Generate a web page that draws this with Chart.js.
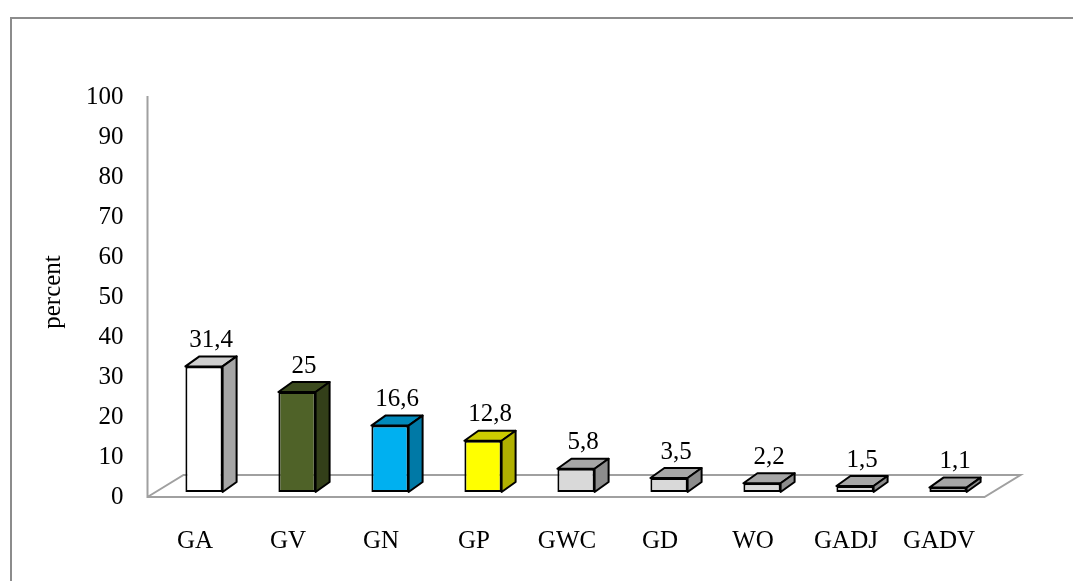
<!DOCTYPE html>
<html>
<head>
<meta charset="utf-8">
<script src="https://cdn.jsdelivr.net/npm/chart.js@4.4.1/dist/chart.umd.min.js"></script>
<style>
  html, body { margin: 0; padding: 0; background: #fff; }
  #wrap { width: 1073px; height: 581px; position: relative; }
</style>
</head>
<body>
<div id="wrap"><canvas id="chart" width="1073" height="581"></canvas></div>
<script>
const categories = ["GA", "GV", "GN", "GP", "GWC", "GD", "WO", "GADJ", "GADV"];
const percentValues = [31.4, 25, 16.6, 12.8, 5.8, 3.5, 2.2, 1.5, 1.1];
const yTicks = [0, 10, 20, 30, 40, 50, 60, 70, 80, 90, 100];

// face colours (front / top / side)
const frontColors = ["#ffffff", "#4f6228", "#00b0f0", "#ffff00", "#d9d9d9", "#d9d9d9", "#d9d9d9", "#d9d9d9", "#d9d9d9"];
const topColors = ["#cfcfcf", "#3c4b1e", "#0089bb", "#cccc00", "#a6a6a6", "#a6a6a6", "#a6a6a6", "#a6a6a6", "#a6a6a6"];
const sideColors = ["#a6a6a6", "#333f19", "#0079a6", "#b0b000", "#8c8c8c", "#8c8c8c", "#8c8c8c", "#8c8c8c", "#8c8c8c"];

const FONT = "'Liberation Serif', 'Times New Roman', serif";
const FS = 25;
const DX = 14, DY = 10;

const frame = {
  id: "frame",
  beforeDraw(chart) {
    const ctx = chart.ctx;
    ctx.save();
    ctx.fillStyle = "#fff";
    ctx.fillRect(0, 0, chart.width, chart.height);
    ctx.strokeStyle = "#8c8c8c";
    ctx.lineWidth = 2;
    ctx.beginPath();
    ctx.moveTo(11, chart.height + 5);
    ctx.lineTo(11, 18);
    ctx.lineTo(chart.width + 5, 18);
    ctx.stroke();
    ctx.restore();
  },
  beforeDatasetsDraw(chart) {
    // floor and vertical axis of the 3d plot
    const ctx = chart.ctx;
    const x = chart.scales.x, y = chart.scales.y;
    const yFront = y.getPixelForValue(0) + 5;
    const xl = x.left - 10, xr = x.right - 10;
    ctx.save();
    ctx.strokeStyle = "#a0a0a0";
    ctx.lineWidth = 2;
    ctx.beginPath();
    ctx.moveTo(xl, y.getPixelForValue(100) + 4);
    ctx.lineTo(xl, yFront);
    ctx.lineTo(xr, yFront);
    ctx.lineTo(xr + 36, yFront - 22);
    ctx.lineTo(xl + 36, yFront - 22);
    ctx.lineTo(xl, yFront);
    ctx.stroke();
    ctx.restore();
  },
  afterDatasetsDraw(chart) {
    const ctx = chart.ctx;
    const meta = chart.getDatasetMeta(0);
    ctx.save();
    ctx.strokeStyle = "#000";
    ctx.lineWidth = 2;
    ctx.lineJoin = "round";
    meta.data.forEach((bar, i) => {
      const p = bar.getProps(["x", "y", "base", "width"], true);
      const l = p.x - p.width / 2, r = p.x + p.width / 2;
      // top face
      ctx.fillStyle = topColors[i];
      ctx.beginPath();
      ctx.moveTo(l, p.y);
      ctx.lineTo(l + DX, p.y - DY);
      ctx.lineTo(r + DX, p.y - DY);
      ctx.lineTo(r, p.y);
      ctx.closePath();
      ctx.fill();
      ctx.stroke();
      // side face
      ctx.fillStyle = sideColors[i];
      ctx.beginPath();
      ctx.moveTo(r, p.y);
      ctx.lineTo(r + DX, p.y - DY);
      ctx.lineTo(r + DX, p.base - DY);
      ctx.lineTo(r, p.base);
      ctx.closePath();
      ctx.fill();
      ctx.stroke();
      // value label
      ctx.fillStyle = "#000";
      ctx.font = FS + "px " + FONT;
      ctx.textAlign = "center";
      ctx.textBaseline = "middle";
      ctx.fillText(String(percentValues[i]).replace(".", ","), p.x + DX / 2, p.y - DY - 16);
    });
    ctx.restore();
  }
};

new Chart(document.getElementById("chart"), {
  type: "bar",
  data: {
    labels: categories,
    datasets: [{
      data: percentValues,
      backgroundColor: frontColors,
      borderColor: "#000",
      borderWidth: 2,
      borderSkipped: false,
      categoryPercentage: 1,
      barPercentage: 0.4
    }]
  },
  options: {
    responsive: false,
    animation: false,
    layout: { padding: { left: 10, right: 78.5, top: 92, bottom: 0 } },
    plugins: { legend: { display: false }, tooltip: { enabled: false } },
    scales: {
      x: {
        grid: { display: false, drawTicks: false },
        border: { display: false },
        ticks: { color: "#000", font: { family: FONT, size: FS }, padding: 34, labelOffset: -9, maxRotation: 0, autoSkip: false },
        afterFit(scale) { scale.height = 89; }
      },
      y: {
        min: 0,
        max: 100,
        afterBuildTicks(scale) { scale.ticks = yTicks.map(v => ({ value: v })); },
        grid: { display: false, drawTicks: false },
        border: { display: false },
        ticks: { color: "#000", font: { family: FONT, size: FS }, padding: 34, labelOffset: 5 },
        title: { display: true, text: "percent", color: "#000", font: { family: FONT, size: FS }, padding: { top: 28 } },
        afterFit(scale) { scale.width = 147.5; }
      }
    }
  },
  plugins: [frame]
});
</script>
</body>
</html>
